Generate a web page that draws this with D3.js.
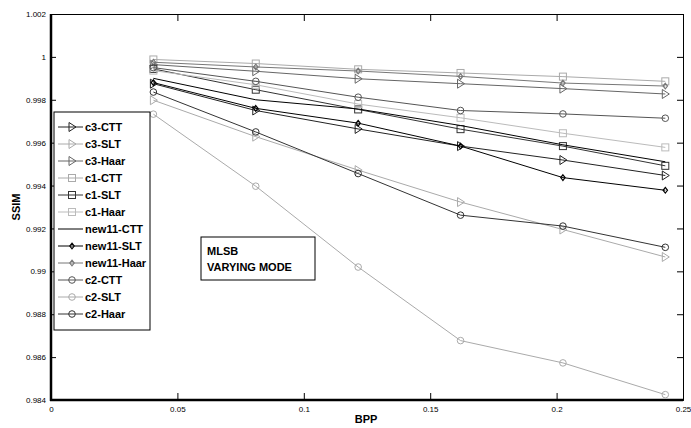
<!DOCTYPE html>
<meta charset="utf-8">
<script src="https://d3js.org/d3.v7.min.js"></script>
<style>
  body { margin: 0; background: #fff; }
  text { font-family: "Liberation Sans Narrow", "Arial Narrow", "Liberation Sans", Arial, sans-serif; }
</style>
<div id="chart"></div>
<script>

// x positions (BPP) shared by all series
var bpp = [0.0405, 0.081, 0.1215, 0.162, 0.2025, 0.243]

// SSIM values
var c3CTT    = [0.99875, 0.9975, 0.99664, 0.99584, 0.99519, 0.99447]
var c3SLT    = [0.99798, 0.99628, 0.99472, 0.99323, 0.99195, 0.99067]
var c3Haar   = [0.99964, 0.99933, 0.99898, 0.99875, 0.99852, 0.99827]
var c1CTT    = [0.99988, 0.99969, 0.99942, 0.99925, 0.99908, 0.99886]
var c1SLT    = [0.99944, 0.99847, 0.99755, 0.99663, 0.99584, 0.99492]
var c1Haar   = [0.99936, 0.9987, 0.9978, 0.99716, 0.99644, 0.99578]
var new11CTT = [0.9990, 0.9980, 0.99757, 0.9968, 0.9959, 0.99511]
var new11SLT = [0.9988, 0.9976, 0.99691, 0.99584, 0.99437, 0.99378]
var new11Haar= [0.99975, 0.99953, 0.99934, 0.99909, 0.99878, 0.99864]
var c2CTT    = [0.9995, 0.99886, 0.99812, 0.9975, 0.99734, 0.99714]
var c2SLT    = [0.99733, 0.99397, 0.9902, 0.98677, 0.98573, 0.98425]
var c2Haar   = [0.99836, 0.9965, 0.99456, 0.99262, 0.99211, 0.99112]

var seriesNames = ["c3-CTT","c3-SLT","c3-Haar","c1-CTT","c1-SLT","c1-Haar",
                   "new11-CTT","new11-SLT","new11-Haar","c2-CTT","c2-SLT","c2-Haar"]
var seriesValues = [c3CTT, c3SLT, c3Haar, c1CTT, c1SLT, c1Haar,
                    new11CTT, new11SLT, new11Haar, c2CTT, c2SLT, c2Haar]

var xTicks = [0, 0.05, 0.1, 0.15, 0.2, 0.25]
var yTicks = [0.984, 0.986, 0.988, 0.99, 0.992, 0.994, 0.996, 0.998, 1, 1.002]

// look of each series
var styles = [
  {color: "#222", marker: "tri"},
  {color: "#aaa", marker: "tri"},
  {color: "#666", marker: "tri"},
  {color: "#aaa", marker: "square"},
  {color: "#333", marker: "square"},
  {color: "#bbb", marker: "square"},
  {color: "#000", marker: "none"},
  {color: "#000", marker: "diamond"},
  {color: "#777", marker: "diamond"},
  {color: "#555", marker: "circle"},
  {color: "#aaa", marker: "circle"},
  {color: "#333", marker: "circle"}
]

var w = 691, h = 428
var plotL = 51, plotR = 683, plotT = 14, plotB = 400

var svg = d3.select("#chart").append("svg")
  .attr("width", w)
  .attr("height", h)

var x = d3.scaleLinear().domain([0, 0.25]).range([plotL, plotR])
var y = d3.scaleLinear().domain([0.984, 1.002]).range([plotB, plotT])

var fmt = d => String(+d.toFixed(3))

// axes, ticks inward on all four sides
svg.append("g")
  .attr("transform", `translate(0,${plotB})`)
  .call(d3.axisBottom(x).tickValues(xTicks).tickSize(-7).tickPadding(6).tickFormat(fmt))
svg.append("g")
  .attr("transform", `translate(0,${plotT})`)
  .call(d3.axisTop(x).tickValues(xTicks).tickSize(-7).tickFormat(""))
svg.append("g")
  .attr("transform", `translate(${plotL},0)`)
  .call(d3.axisLeft(y).tickValues(yTicks).tickSize(-5).tickPadding(5).tickFormat(fmt))
svg.append("g")
  .attr("transform", `translate(${plotR},0)`)
  .call(d3.axisRight(y).tickValues(yTicks).tickSize(-6).tickFormat(""))

svg.selectAll(".domain").attr("stroke", "#000")
svg.selectAll(".tick line").attr("stroke", "#000")
svg.selectAll(".tick text").attr("font-size", "8px").attr("fill", "#000")

// thick left and bottom frame lines
svg.append("line").attr("x1", plotL).attr("x2", plotL).attr("y1", plotT).attr("y2", plotB + 1)
  .attr("stroke", "#000").attr("stroke-width", 2.5)
svg.append("line").attr("x1", plotL - 1).attr("x2", plotR).attr("y1", plotB).attr("y2", plotB)
  .attr("stroke", "#000").attr("stroke-width", 2.5)

function marker(g, type, cx, cy, color) {
  if (type == "tri") {
    g.append("path").attr("d", `M${cx-3},${cy-4.5} L${cx+4},${cy} L${cx-3},${cy+4.5} Z`)
      .attr("fill", "none").attr("stroke", color)
  } else if (type == "square") {
    g.append("rect").attr("x", cx - 3.5).attr("y", cy - 3.5).attr("width", 7).attr("height", 7)
      .attr("fill", "none").attr("stroke", color)
  } else if (type == "circle") {
    g.append("circle").attr("cx", cx).attr("cy", cy).attr("r", 3.3)
      .attr("fill", "none").attr("stroke", color)
  } else if (type == "diamond") {
    g.append("path").attr("d", `M${cx},${cy-2.8} L${cx+2.2},${cy} L${cx},${cy+2.8} L${cx-2.2},${cy} Z`)
      .attr("fill", "none").attr("stroke", color).attr("stroke-width", 1.2)
  }
}

var line = d3.line().x(d => x(d[0])).y(d => y(d[1]))

var plot = svg.append("g")
seriesValues.forEach(function(vals, i) {
  var pts = vals.map((v, j) => [bpp[j], v])
  plot.append("path")
    .attr("d", line(pts))
    .attr("fill", "none")
    .attr("stroke", styles[i].color)
    .attr("stroke-width", 1)
  pts.forEach(p => marker(plot, styles[i].marker, x(p[0]), y(p[1]), styles[i].color))
})

// legend
var lg = svg.append("g")
lg.append("rect").attr("x", 54).attr("y", 112).attr("width", 96).attr("height", 218)
  .attr("fill", "#fff").attr("stroke", "#000")
seriesNames.forEach(function(name, i) {
  var ly = 127 + i * 17
  lg.append("line").attr("x1", 58).attr("x2", 83).attr("y1", ly).attr("y2", ly)
    .attr("stroke", styles[i].color)
  marker(lg, styles[i].marker, 72, ly, styles[i].color)
  lg.append("text").attr("x", 85).attr("y", ly + 4)
    .attr("font-size", "11px").attr("font-weight", "bold").text(name)
})

// annotation box
svg.append("rect").attr("x", 201).attr("y", 237).attr("width", 114).attr("height", 43)
  .attr("fill", "#fff").attr("stroke", "#000")
svg.append("text").attr("x", 207).attr("y", 255).attr("font-size", "11px")
  .attr("font-weight", "bold").text("MLSB")
svg.append("text").attr("x", 207).attr("y", 271).attr("font-size", "11px")
  .attr("font-weight", "bold").text("VARYING MODE")

// axis titles
svg.append("text").attr("x", 366).attr("y", 423).attr("text-anchor", "middle")
  .attr("font-size", "11px").attr("font-weight", "bold").text("BPP")
svg.append("text").attr("transform", "translate(20,207) rotate(-90)").attr("text-anchor", "middle")
  .attr("font-size", "11px").attr("font-weight", "bold").text("SSIM")

</script>
